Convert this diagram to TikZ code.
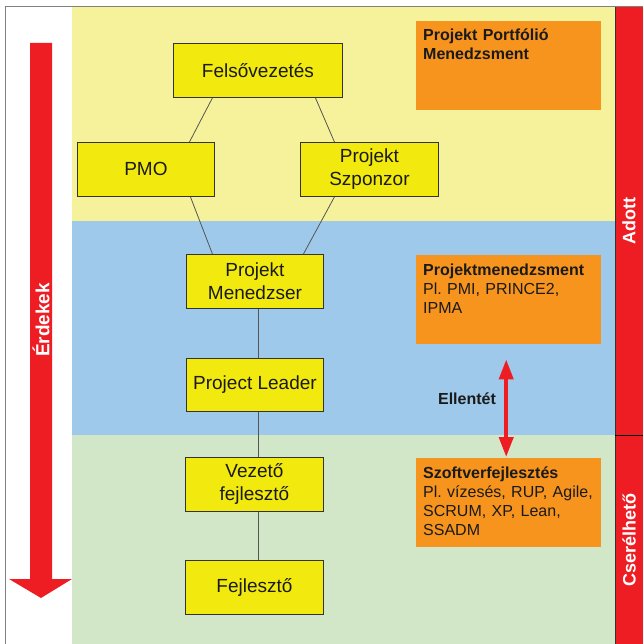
\documentclass[tikz,border=0pt]{standalone}
\usepackage{fontspec}
\setmainfont{Liberation Sans}
\usetikzlibrary{arrows.meta}
\definecolor{bandY}{HTML}{F6F19B}
\definecolor{bandB}{HTML}{9FC9EA}
\definecolor{bandG}{HTML}{D2E6C8}
\definecolor{boxY}{HTML}{F2EA0E}
\definecolor{orangeC}{HTML}{F7941E}
\definecolor{redC}{HTML}{EE1D23}
\definecolor{lineC}{HTML}{333333}
\definecolor{connC}{HTML}{555555}
\definecolor{txtC}{HTML}{1A1A1A}
\frenchspacing
\begin{document}
\begin{tikzpicture}[x=1pt,y=-1pt,
  ybox/.style={draw=lineC, fill=boxY, line width=0.9pt, align=center, text=txtC,
    font=\fontsize{19}{23}\selectfont, inner sep=0pt, anchor=north west},
  obox/.style={fill=orangeC, inner sep=0pt, anchor=north west, minimum width=185pt, minimum height=89pt},
  otext/.style={anchor=base west, inner sep=0pt, text width=180pt, align=left, text=txtC,
    font=\fontsize{16}{19}\selectfont},
  conn/.style={draw=connC, line width=0.8pt},
  sidetext/.style={rotate=90, text=white, font=\bfseries\fontsize{18}{22}\selectfont, inner sep=0pt}
]
\useasboundingbox (0,0) rectangle (643,644);
\fill[white] (0,0) rectangle (643,644);
% bands
\fill[bandY] (72,7) rectangle (615,221);
\fill[bandB] (72,221) rectangle (615,435);
\fill[bandG] (72,435) rectangle (615,644);
% frame
\draw[gray, line width=1pt] (5,644) -- (5,7) -- (643,7);
% right bar
\fill[redC] (615,7) rectangle (643,644);
\draw[lineC, line width=0.8pt] (615,7) -- (615,644);
\draw[black, line width=1pt] (615,435) -- (643,435);
\node[sidetext] (adott) at (629,221) {Adott};
\node[sidetext] (cser) at (629,540) {Cserélhető};
% big arrow
\fill[redC] (30,43) -- (52,43) -- (52,579) -- (72,579) -- (41,598) -- (9,579) -- (30,579) -- cycle;
\node[sidetext, font=\bfseries\fontsize{19}{23}\selectfont] (erd) at (41,320) {Érdekek};
% yellow boxes
\node[ybox, minimum width=169pt, minimum height=54pt] (fel) at (173,43) {Felsővezetés};
\node[ybox, minimum width=137pt, minimum height=54pt] (pmo) at (77,142) {PMO};
\node[ybox, minimum width=138pt, minimum height=54pt] (szp) at (300,142) {Projekt\\Szponzor};
\node[ybox, minimum width=137pt, minimum height=54pt] (pm) at (186,254) {Projekt\\Menedzser};
\node[ybox, minimum width=137pt, minimum height=53pt] (pl) at (186,358) {Project Leader};
\node[ybox, minimum width=138pt, minimum height=54pt] (vez) at (185,457) {Vezető\\fejlesztő};
\node[ybox, minimum width=138pt, minimum height=54pt] (fej) at (185,560) {Fejlesztő};
% connectors
\draw[conn] ([xshift=-45.5pt]fel.south) -- ([xshift=43.5pt]pmo.north);
\draw[conn] ([xshift=57.5pt]fel.south) -- ([xshift=-35pt]szp.north);
\draw[conn] ([xshift=44.5pt]pmo.south) -- ([xshift=-42.5pt]pm.north);
\draw[conn] ([xshift=-35pt]szp.south) -- ([xshift=48.5pt]pm.north);
\draw[conn] ([xshift=3.5pt]pm.south) -- ([xshift=3.5pt]pl.north);
\draw[conn] ([xshift=3.5pt]pl.south) -- ([xshift=4pt]vez.north);
\draw[conn] ([xshift=4pt]vez.south) -- ([xshift=4pt]fej.north);
% orange boxes
\node[obox] (ppm) at (416,21) {};
\node[otext] (ppmt) at ([xshift=7pt,yshift=-20pt]ppm.north west) {\textbf{Projekt Portfólió}\\\textbf{Menedzsment}};
\node[obox] (pmg) at (416,255) {};
\node[otext] (pmgt) at ([xshift=7pt,yshift=-20pt]pmg.north west) {\textbf{Projektmenedzsment}\\Pl. PMI, PRINCE2,\\IPMA};
\node[obox] (szf) at (416,458) {};
\node[otext] (szft) at ([xshift=7pt,yshift=-20pt]szf.north west) {\textbf{Szoftverfejlesztés}\\Pl. vízesés, RUP, Agile,\\SCRUM, XP, Lean,\\SSADM};
% double arrow
\draw[redC, line width=4pt, shorten <=15pt, shorten >=1pt,
  {Triangle[width=14pt,length=20pt]}-{Triangle[width=14pt,length=20pt]}]
  ([xshift=-2.5pt]pmg.south) -- ([xshift=-2.5pt]szf.north);
\node[font=\bfseries\fontsize{16}{19}\selectfont, text=txtC] (ell) at (467,399) {Ellentét};
\end{tikzpicture}
\end{document}
